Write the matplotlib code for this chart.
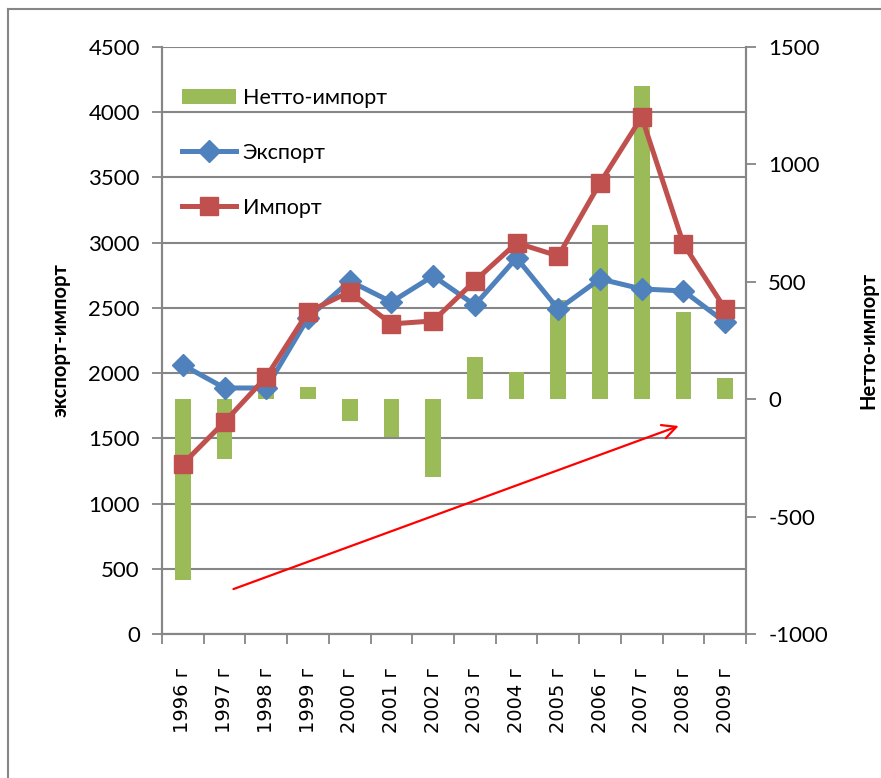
import matplotlib.pyplot as plt
from matplotlib.lines import Line2D
import numpy as np

plt.rcParams['font.family'] = ['Lato', 'DejaVu Sans']
plt.rcParams['axes.unicode_minus'] = False

# данные
years = ['1996 г', '1997 г', '1998 г', '1999 г', '2000 г', '2001 г', '2002 г',
         '2003 г', '2004 г', '2005 г', '2006 г', '2007 г', '2008 г', '2009 г']
eksport = [2062, 1886, 1886, 2423, 2706, 2545, 2745, 2522, 2883, 2490, 2722, 2645, 2630, 2390]
import_ = [1304, 1626, 1971, 2469, 2623, 2377, 2400, 2707, 2998, 2898, 3458, 3963, 2990, 2492]
netto = [-770, -255, 51, 51, -94, -162, -332, 179, 115, 421, 740, 1332, 370, 89]

blue = '#4F81BD'
red = '#C0504D'
green = '#9BBB59'
gray = '#868686'

x = np.arange(len(years))

fig = plt.figure(figsize=(8.81, 7.78), dpi=100)
ax = fig.add_axes([162/881, 1-634/778, 584/881, 587/778])
ax2 = ax.twinx()
ax.set_zorder(ax2.get_zorder()+1)
ax.patch.set_visible(False)

# столбцы нетто-импорта по правой оси, но рисуются под линиями
b = ax.bar(x, netto, width=0.38, color=green, label='Нетто-импорт',
           transform=ax2.transData, zorder=1)
l1, = ax.plot(x, eksport, color=blue, lw=3.6, marker='D', ms=11, label='Экспорт', zorder=3)
l2, = ax.plot(x, import_, color=red, lw=3.6, marker='s', ms=13, label='Импорт', zorder=4)

ax.set_xlim(-0.5, len(years)-0.5)
ax.set_ylim(0, 4500)
ax.set_yticks(np.arange(0, 4501, 500))
ax2.set_ylim(-1000, 1500)
ax2.set_yticks(np.arange(-1000, 1501, 500))

ax.yaxis.grid(True, color=gray, lw=1.5, zorder=0)
ax.set_axisbelow(True)

ax.set_xticks(x)
ax.set_xticklabels(years, rotation=90, fontfamily='DejaVu Sans', fontsize=14)
ax.set_xticks(np.arange(-0.5, len(years)), minor=True)
ax.tick_params(axis='x', which='major', length=0, pad=24)
ax.tick_params(axis='x', which='minor', length=7, width=1.3, color=gray)
ax.tick_params(axis='y', length=7, width=1.3, color=gray, labelsize=16, pad=9)
ax2.tick_params(axis='y', length=7, width=1.3, color=gray, labelsize=16, pad=9)

for a in (ax, ax2):
    a.spines['top'].set_visible(False)
    for s in ('left', 'right', 'bottom'):
        a.spines[s].set_color(gray)
        a.spines[s].set_linewidth(1.5)

ax.set_ylabel('экспорт-импорт', fontsize=14.5, fontweight='bold')
ax.yaxis.set_label_coords(-0.156, 0.5)
ax2.set_ylabel('Нетто-импорт', fontsize=14.5, fontweight='bold')
ax2.yaxis.set_label_coords(1.193, 0.5)

ax.legend([b, l1, l2], ['Нетто-импорт', 'Экспорт', 'Импорт'],
          loc='upper left', bbox_to_anchor=(0.035, 0.93), frameon=False,
          fontsize=15.5, borderpad=0, borderaxespad=0, handlelength=2.5,
          handletextpad=0.3, labelspacing=1.62)

# стрелка тренда
ax.annotate('', xy=(11.95, 1602), xytext=(1.15, 337),
            arrowprops=dict(arrowstyle='->', color='red', lw=1.6,
                            mutation_scale=25))

# рамка области диаграммы
fig.add_artist(Line2D([8/881, 8/881], [-0.1, 1-9/778], color=gray, lw=1.5))
fig.add_artist(Line2D([8/881, 1.1], [1-9/778, 1-9/778], color=gray, lw=1.5))

fig.savefig('out.png', dpi=100)
